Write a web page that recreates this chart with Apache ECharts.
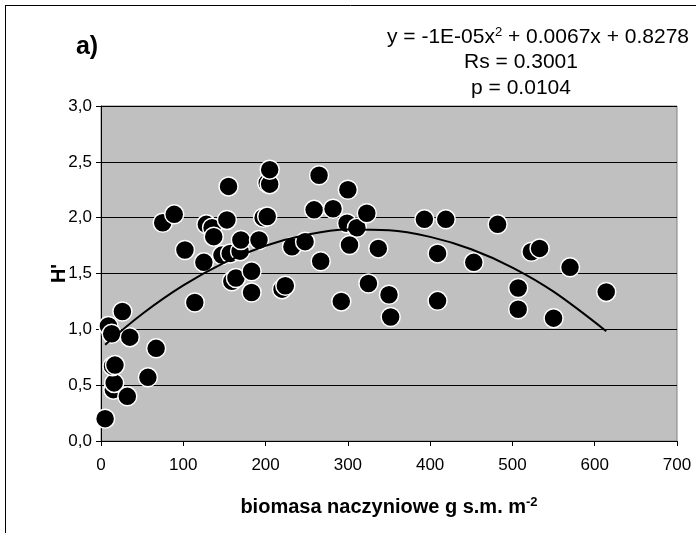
<!DOCTYPE html>
<html>
<head>
<meta charset="utf-8">
<script src="https://cdn.jsdelivr.net/npm/echarts@6/dist/echarts.min.js"></script>
<style>
  html, body { margin: 0; padding: 0; background: #ffffff; }
  #chart { width: 696px; height: 533px; }
</style>
</head>
<body>
<div id="chart"></div>
<script>
// Vascular plant biomass (g d.m. per m2) at each sampled plot
const biomass = [
  5, 15, 16, 32, 57, 14, 17, 67, 9, 13, 35, 26,
  75, 89, 102, 114, 125, 128, 135, 137, 147, 153, 155, 157,
  159, 164, 169, 170, 183, 183, 192, 197, 202, 202, 205, 205,
  220, 224, 232, 248, 259, 265, 267, 282, 292, 299, 300, 311,
  302, 323, 325, 337, 350, 352, 393, 409, 409, 419, 453, 482,
  507, 507, 523, 533, 550, 570, 614
];
// Shannon diversity index H' for the same plots
const diversity = [
  0.20, 0.46, 0.52, 0.40, 0.57, 0.67, 0.68, 0.83, 1.03, 0.96, 0.93, 1.16,
  1.955, 2.03, 1.71, 1.24, 1.60, 1.94, 1.91, 1.83, 1.665, 1.98, 2.28, 1.68,
  1.43, 1.46, 1.70, 1.80, 1.52, 1.33, 1.80, 2.00, 2.01, 2.31, 2.30, 2.43,
  1.36, 1.39, 1.74, 1.785, 2.07, 2.38, 1.61, 2.08, 1.25, 1.95, 2.25, 1.91,
  1.755, 2.04, 1.41, 1.725, 1.31, 1.11, 1.985, 1.68, 1.255, 1.985, 1.60, 1.94,
  1.37, 1.18, 1.695, 1.725, 1.10, 1.555, 1.335
];
// Second-order polynomial trend line, sampled along the biomass range
const trendX = [5, 50, 100, 150, 200, 250, 300, 350, 400, 450, 500, 550, 614];
const trendY = [0.861, 1.137, 1.393, 1.597, 1.748, 1.847, 1.893, 1.887, 1.828, 1.717, 1.553, 1.337, 0.983];

const xTicks = [0, 100, 200, 300, 400, 500, 600, 700];
const yTicks = [0, 0.5, 1.0, 1.5, 2.0, 2.5, 3.0];

const FONT = '"Liberation Sans", Arial, sans-serif';
const SUP = { fontFamily: FONT, fontSize: 13, verticalAlign: 'top', padding: [0, 0, 9, 0], color: '#000' };

const chart = echarts.init(document.getElementById('chart'), null, { renderer: 'canvas' });

const points = biomass.map((b, i) => [b, diversity[i]]);
const trend = trendX.map((x, i) => [x, trendY[i]]);

chart.setOption({
  animation: false,
  backgroundColor: '#ffffff',
  graphic: [
    // chart frame
    { type: 'line', shape: { x1: 5, y1: 5.5, x2: 696, y2: 5.5 }, style: { stroke: '#000', lineWidth: 1 } },
    { type: 'line', shape: { x1: 5.5, y1: 5, x2: 5.5, y2: 533 }, style: { stroke: '#000', lineWidth: 1 } },
    // panel letter
    { type: 'text', x: 87, y: 47, style: { text: 'a)', font: 'bold 25px ' + FONT, fill: '#000', align: 'center', verticalAlign: 'middle' } },
    // regression statistics
    { type: 'text', x: 689, y: 37, style: {
        text: 'y = -1E-05x{sup|2} + 0.0067x + 0.8278', font: '21px ' + FONT, fill: '#000',
        align: 'right', verticalAlign: 'middle', rich: { sup: SUP } } },
    { type: 'text', x: 521, y: 62, style: { text: 'Rs = 0.3001', font: '21px ' + FONT, fill: '#000', align: 'center', verticalAlign: 'middle' } },
    { type: 'text', x: 521, y: 88, style: { text: 'p = 0.0104', font: '21px ' + FONT, fill: '#000', align: 'center', verticalAlign: 'middle' } }
  ],
  grid: {
    left: 101, right: 19, top: 106, bottom: 92,
    show: true, backgroundColor: '#c0c0c0', borderColor: '#808080', borderWidth: 1
  },
  xAxis: {
    type: 'value', min: 0, max: 700, interval: 100,
    name: 'biomasa naczyniowe g s.m. m{sup|-2}',
    nameLocation: 'middle', nameGap: 55,
    nameTextStyle: {
      fontFamily: FONT, fontSize: 20, fontWeight: 'bold', color: '#000',
      rich: { sup: { fontFamily: FONT, fontSize: 13, fontWeight: 'bold', verticalAlign: 'top', padding: [0, 0, 9, 0], color: '#000' } }
    },
    axisLine: { show: true, lineStyle: { color: '#000', width: 1 } },
    axisTick: { show: true, inside: false, length: 5, lineStyle: { color: '#000' } },
    axisLabel: { fontFamily: FONT, fontSize: 17, color: '#000', margin: 16,
      formatter: v => xTicks.includes(v) ? String(v) : '' },
    splitLine: { show: false }
  },
  yAxis: {
    type: 'value', min: 0, max: 3, interval: 0.5,
    name: "H'",
    nameLocation: 'middle', nameGap: 32, nameRotate: 90,
    nameMoveOverlap: false,
    nameTextStyle: { fontFamily: FONT, fontSize: 20, fontWeight: 'bold', color: '#000' },
    axisLine: { show: true, lineStyle: { color: '#000', width: 1 } },
    axisTick: { show: true, inside: false, length: 5, lineStyle: { color: '#000' } },
    axisLabel: { fontFamily: FONT, fontSize: 17, color: '#000', margin: 9,
      formatter: v => yTicks.some(t => Math.abs(t - v) < 1e-9) ? v.toFixed(1).replace('.', ',') : '' },
    splitLine: { show: true, lineStyle: { color: '#000', width: 1 } }
  },
  series: [
    {
      type: 'scatter',
      data: points,
      symbol: 'circle',
      symbolSize: 19,
      itemStyle: { color: '#000', borderColor: '#fff', borderWidth: 1.5, opacity: 1 },
      z: 2
    },
    {
      type: 'line',
      data: trend,
      smooth: 0.35,
      symbol: 'none',
      lineStyle: { color: '#000', width: 2 },
      z: 3
    }
  ]
});
</script>
</body>
</html>
